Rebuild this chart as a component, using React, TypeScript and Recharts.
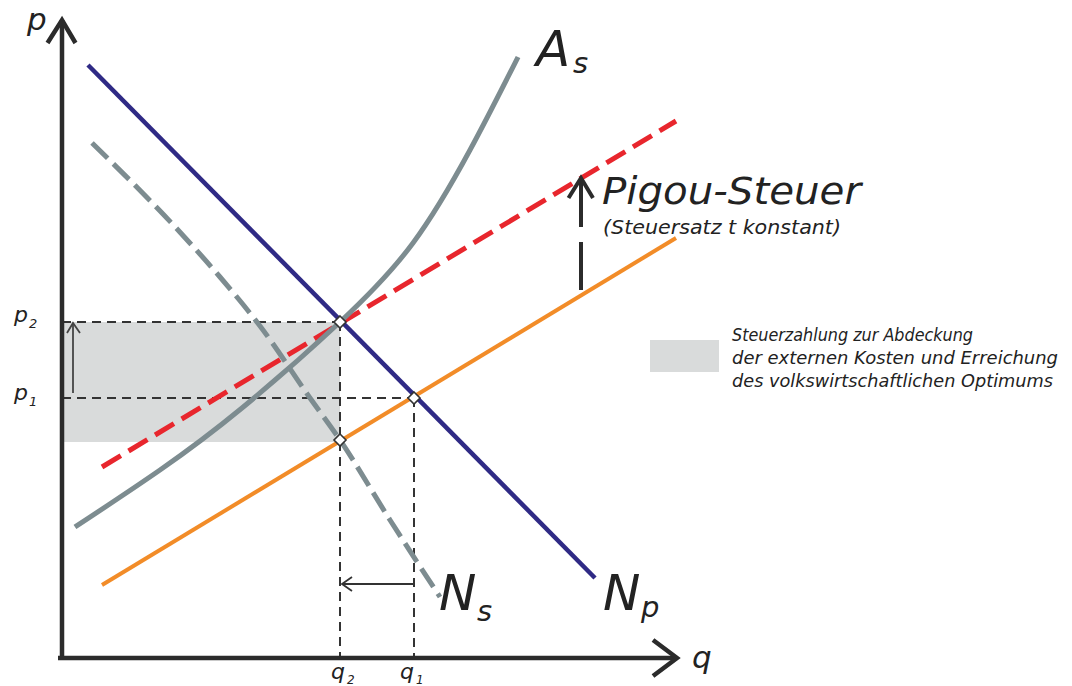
import React from "react";
import {
  ComposedChart, Line, Scatter, XAxis, YAxis, ReferenceLine, ReferenceArea
} from "recharts";

// economic coordinates: q = quantity, p = price
const Q2 = 5.56;
const P2 = 6.72;
const Q1 = 7.04;
const P1 = 5.2;
const PT = 4.32;

const npLine = [{ q: 0.52, p: 11.86 }, { q: 10.66, p: 1.6 }];
const nsCurve = [
  { q: 0.6, p: 10.3 }, { q: 2.32, p: 8.56 }, { q: 3.16, p: 7.62 }, { q: 3.96, p: 6.64 },
  { q: 4.96, p: 5.2 }, { q: 5.56, p: 4.36 }, { q: 6.56, p: 2.76 }, { q: 7.56, p: 1.22 },
];
const asCurve = [
  { q: 0.26, p: 2.62 }, { q: 1.96, p: 3.76 }, { q: 3.6, p: 5.0 }, { q: 5.56, p: 6.72 },
  { q: 7.02, p: 8.3 }, { q: 8.16, p: 10.16 }, { q: 9.12, p: 12.02 },
];
const taxLine = [{ q: 0.8, p: 3.82 }, { q: 12.28, p: 10.74 }];
const apLine = [{ q: 0.8, p: 1.46 }, { q: 12.28, p: 8.4 }];
const points = [{ q: Q2, p: P2 }, { q: Q2, p: PT + 0.04 }, { q: Q1, p: P1 }];

// axes and arrows
const yAxisLine = [{ q: 0, p: -0.04 }, { q: 0, p: 12.76 }];
const yAxisHead = [{ q: -0.29, p: 12.3 }, { q: 0, p: 12.76 }, { q: 0.27, p: 12.3 }];
const xAxisLine = [{ q: -0.08, p: 0 }, { q: 12.28, p: 0 }];
const xAxisHead = [{ q: 11.82, p: 0.36 }, { q: 12.3, p: 0 }, { q: 11.82, p: -0.36 }];
const priceArrow = [{ q: 0.22, p: 5.3 }, { q: 0.22, p: 6.7 }];
const priceHead = [{ q: 0.1, p: 6.5 }, { q: 0.22, p: 6.7 }, { q: 0.36, p: 6.5 }];
const qtyArrow = [{ q: 7.02, p: 1.48 }, { q: 5.6, p: 1.48 }];
const qtyHead = [{ q: 5.8, p: 1.62 }, { q: 5.6, p: 1.48 }, { q: 5.8, p: 1.34 }];
const pigouLow = [{ q: 10.38, p: 7.36 }, { q: 10.38, p: 8.32 }];
const pigouUp = [{ q: 10.38, p: 8.62 }, { q: 10.38, p: 9.58 }];
const pigouHead = [{ q: 10.13, p: 9.2 }, { q: 10.38, p: 9.6 }, { q: 10.62, p: 9.2 }];

const legendLines = [
  "Steuerzahlung zur Abdeckung",
  "der externen Kosten und Erreichung",
  "des volkswirtschaftlichen Optimums",
];
const legendWidths = [241, 326, 321];

const W = 1072;
const H = 686;
const INK = "#2b2b2b";
const FONT = "'DejaVu Sans', Verdana, sans-serif";

const Diamond = (props: any) => {
  const { cx, cy } = props;
  const r = 6;
  return (
    <polygon
      points={`${cx},${cy - r} ${cx + r},${cy} ${cx},${cy + r} ${cx - r},${cy}`}
      fill="#fff"
      stroke="#333"
      strokeWidth={1.6}
    />
  );
};

const seg = (data: { q: number; p: number }[], key: string, color: string, width: number) => (
  <Line
    key={key}
    data={data}
    dataKey="p"
    type="linear"
    stroke={color}
    strokeWidth={width}
    strokeLinejoin="miter"
    dot={false}
    activeDot={false}
    isAnimationActive={false}
  />
);

export default function App() {
  return (
    <div style={{ position: "absolute", left: 0, top: 0, width: W, height: H, background: "#fff" }}>
      <ComposedChart width={W} height={H} margin={{ top: 0, right: 0, bottom: 0, left: 0 }}>
        <XAxis type="number" dataKey="q" domain={[-1.24, 20.2]} allowDataOverflow hide />
        <YAxis type="number" dataKey="p" domain={[-0.56, 13.16]} allowDataOverflow hide />
        <ReferenceArea x1={0} x2={Q2} y1={PT} y2={P2} fill="#d9dbdb" fillOpacity={1} stroke="none" />
        <ReferenceLine segment={[{ x: 0, y: P2 }, { x: Q2, y: P2 }]} stroke="#333" strokeWidth={2} strokeDasharray="9 6" />
        <ReferenceLine segment={[{ x: 0, y: P1 }, { x: Q1, y: P1 }]} stroke="#333" strokeWidth={2} strokeDasharray="9 6" />
        <ReferenceLine segment={[{ x: Q2, y: P2 }, { x: Q2, y: 0 }]} stroke="#333" strokeWidth={2} strokeDasharray="9 6" />
        <ReferenceLine segment={[{ x: Q1, y: P1 }, { x: Q1, y: 0 }]} stroke="#333" strokeWidth={2} strokeDasharray="9 6" />
        {seg(priceArrow, "pa", "#444", 1.8)}
        {seg(priceHead, "ph", "#444", 1.8)}
        {seg(qtyArrow, "qa", "#333", 1.8)}
        {seg(qtyHead, "qh", "#333", 1.8)}
        <Line data={apLine} dataKey="p" type="linear" stroke="#f28c28" strokeWidth={4} dot={false} activeDot={false} isAnimationActive={false} />
        <Line data={taxLine} dataKey="p" type="linear" stroke="#e8262d" strokeWidth={5} strokeDasharray="22 9" dot={false} activeDot={false} isAnimationActive={false} />
        <Line data={nsCurve} dataKey="p" type="monotone" stroke="#7d8c90" strokeWidth={5} strokeDasharray="22 8" dot={false} activeDot={false} isAnimationActive={false} />
        <Line data={asCurve} dataKey="p" type="natural" stroke="#7d8c90" strokeWidth={5} dot={false} activeDot={false} isAnimationActive={false} />
        <Line data={npLine} dataKey="p" type="linear" stroke="#2f2a85" strokeWidth={4.5} dot={false} activeDot={false} isAnimationActive={false} />
        {seg(yAxisLine, "ya", INK, 4.5)}
        {seg(yAxisHead, "yh", INK, 4.5)}
        {seg(xAxisLine, "xa", INK, 4.5)}
        {seg(xAxisHead, "xh", INK, 4.5)}
        {seg(pigouLow, "pl", INK, 4)}
        {seg(pigouUp, "pu", INK, 4)}
        {seg(pigouHead, "ph2", INK, 4)}
        <Scatter data={points} dataKey="p" shape={<Diamond />} isAnimationActive={false} />
      </ComposedChart>
      <svg width={W} height={H} style={{ position: "absolute", left: 0, top: 0, pointerEvents: "none" }}>
        <g fontFamily={FONT} fontStyle="italic" fill="#222">
          <text x={27} y={30} fontSize={31}>p</text>
          <text x={692} y={668} fontSize={31}>q</text>
          <text x={536} y={66} fontSize={50}>A</text>
          <text x={573} y={73} fontSize={29}>s</text>
          <text x={439} y={610} fontSize={50}>N</text>
          <text x={477} y={621} fontSize={29}>s</text>
          <text x={603} y={610} fontSize={50}>N</text>
          <text x={641} y={617} fontSize={29}>p</text>
          <text x={602} y={204} fontSize={37} textLength={259} lengthAdjust="spacingAndGlyphs">Pigou-Steuer</text>
          <text x={603} y={234} fontSize={19} textLength={238} lengthAdjust="spacingAndGlyphs">(Steuersatz t konstant)</text>
          <text x={14} y={322} fontSize={22}>p</text>
          <text x={29} y={328} fontSize={13}>2</text>
          <text x={14} y={400} fontSize={22}>p</text>
          <text x={29} y={406} fontSize={13}>1</text>
          <text x={331} y={679} fontSize={22}>q</text>
          <text x={347} y={684} fontSize={12}>2</text>
          <text x={400} y={679} fontSize={22}>q</text>
          <text x={416} y={684} fontSize={12}>1</text>
          {legendLines.map((t, i) => (
            <text key={t} x={732} y={341 + i * 23} fontSize={17} textLength={legendWidths[i]} lengthAdjust="spacingAndGlyphs">{t}</text>
          ))}
        </g>
        <rect x={650} y={340} width={69} height={32} fill="#d9dbdb" />
      </svg>
    </div>
  );
}
